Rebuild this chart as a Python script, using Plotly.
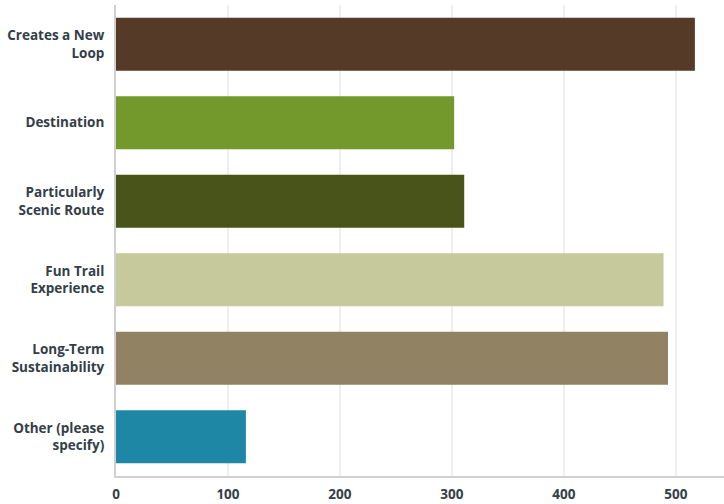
import plotly.graph_objects as go

categories = ["Creates a New<br>Loop", "Destination", "Particularly<br>Scenic Route",
              "Fun Trail<br>Experience", "Long-Term<br>Sustainability", "Other (please<br>specify)"]
values = [517, 302, 311, 489, 493, 116]
colors = ["#553a28", "#73982b", "#49541a", "#c5c99b", "#918263", "#1e87a5"]
tick_vals = [0, 100, 200, 300, 400, 500]

font_family = "Open Sans, Roboto, sans-serif"
text_color = "#333e48"

fig = go.Figure(go.Bar(
    y=categories, x=values, orientation="h",
    marker=dict(color=colors, line=dict(width=0)),
    width=0.675,
    hoverinfo="x+y",
))

fig.update_layout(
    width=724, height=504,
    margin=dict(l=116, r=0, t=5, b=28),
    paper_bgcolor="white", plot_bgcolor="white",
    showlegend=False,
    font=dict(family=font_family, color=text_color, size=13.5),
)
fig.update_yaxes(
    categoryorder="array", categoryarray=categories, autorange="reversed",
    showline=True, linecolor="#d0d0d0", linewidth=2,
    showgrid=False, ticks="", ticklabelstandoff=7, automargin=False,
    tickfont=dict(family=font_family, size=13.5, color=text_color, weight=700),
)
fig.update_xaxes(
    range=[0, 543], tickvals=tick_vals,
    showline=True, linecolor="#d0d0d0", linewidth=2,
    showgrid=True, gridcolor="#efefef", gridwidth=2,
    zeroline=False, ticks="", ticklabelstandoff=5, automargin=False,
    tickfont=dict(family=font_family, size=13.5, color=text_color, weight=700),
)

fig.write_html("out.html")
